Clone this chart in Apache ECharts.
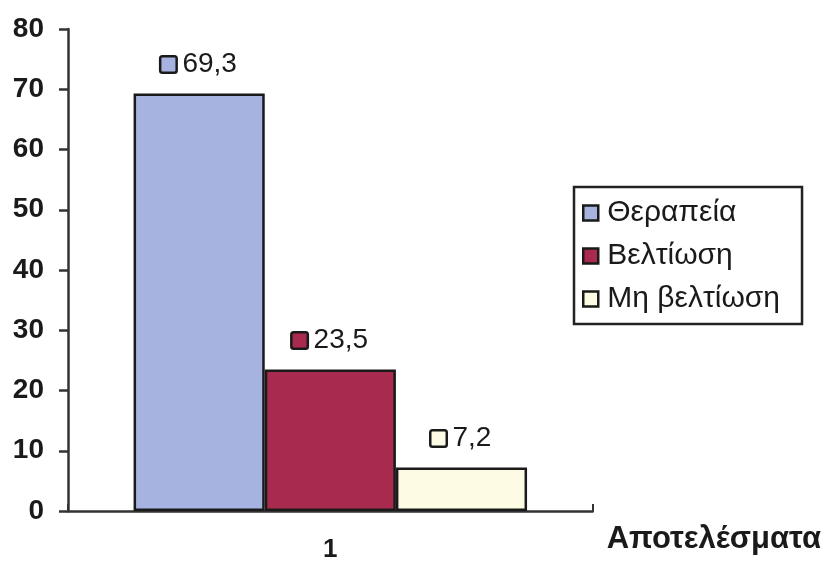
<!DOCTYPE html>
<html><head><meta charset="utf-8">
<script src="https://cdn.jsdelivr.net/npm/echarts@6/dist/echarts.min.js"></script>
<style>html,body{margin:0;padding:0;background:#fff}#c{width:824px;height:563px}</style>
</head><body><div id="c"></div>
<script>
const categories = ['1'];
const seriesNames = ['Θεραπεία', 'Βελτίωση', 'Μη βελτίωση'];
const therapyValues = [69.3];
const improvementValues = [23.5];
const noImprovementValues = [7.2];
const yTicks = [0, 10, 20, 30, 40, 50, 60, 70, 80];
const colors = ['#a6b3e0', '#a82a4e', '#fdfbe4'];

const chart = echarts.init(document.getElementById('c'));
const font = 'Liberation Sans, Arial, sans-serif';
const dataSets = [therapyValues, improvementValues, noImprovementValues];

const series = dataSets.map((d, i) => ({
  name: seriesNames[i],
  type: 'bar',
  data: d,
  barGap: '0%',
  barCategoryGap: '25%',
  itemStyle: { color: colors[i], borderColor: '#1a1a1a', borderWidth: 2.5 },
  label: {
    show: true,
    position: 'top',
    distance: 15,
    formatter: p => '{box|}{v|' + String(p.value).replace('.', ',') + '}',
    rich: {
      box: { width: 14, height: 14, backgroundColor: colors[i], borderColor: '#1a1a1a', borderWidth: 2.5, borderRadius: 1 },
      v: { fontFamily: font, fontSize: 28, color: '#1a1a1a', padding: [0, 0, 0, 7] }
    }
  }
}));

chart.setOption({
  animation: false,
  backgroundColor: '#fff',
  grid: { left: 68, right: 230, top: 29, bottom: 52, containLabel: false },
  legend: {
    orient: 'vertical',
    left: 574, top: 187,
    data: seriesNames,
    itemWidth: 15, itemHeight: 15,
    itemGap: 13,
    padding: [11, 22, 10, 8],
    borderColor: '#222', borderWidth: 2.5,
    icon: 'rect',
    itemStyle: { borderColor: '#1a1a1a', borderWidth: 2.5 },
    textStyle: { fontFamily: font, fontSize: 30, color: '#1a1a1a', padding: [0, 0, 0, 4] }
  },
  xAxis: {
    type: 'category',
    data: categories,
    name: 'Αποτελέσματα',
    nameLocation: 'end',
    nameGap: 14,
    nameTextStyle: { fontFamily: font, fontSize: 31, fontWeight: 'bold', color: '#1a1a1a', verticalAlign: 'top', padding: [13, 0, 0, 0] },
    axisLine: { lineStyle: { color: '#333', width: 2.5 } },
    axisTick: { show: true, alignWithLabel: false, length: -7, lineStyle: { color: '#333', width: 2 } },
    axisLabel: { fontFamily: font, fontSize: 26, fontWeight: 'bold', color: '#1a1a1a', margin: 26 }
  },
  yAxis: {
    type: 'value',
    min: yTicks[0], max: yTicks[yTicks.length - 1], interval: 10,
    axisLine: { show: true, lineStyle: { color: '#333', width: 2.5 } },
    axisTick: { show: true, length: 9, lineStyle: { color: '#333', width: 2.5 } },
    splitLine: { show: false },
    axisLabel: { fontFamily: font, fontSize: 28, fontWeight: 'bold', color: '#1a1a1a', margin: 24 }
  },
  series
});
</script></body></html>
